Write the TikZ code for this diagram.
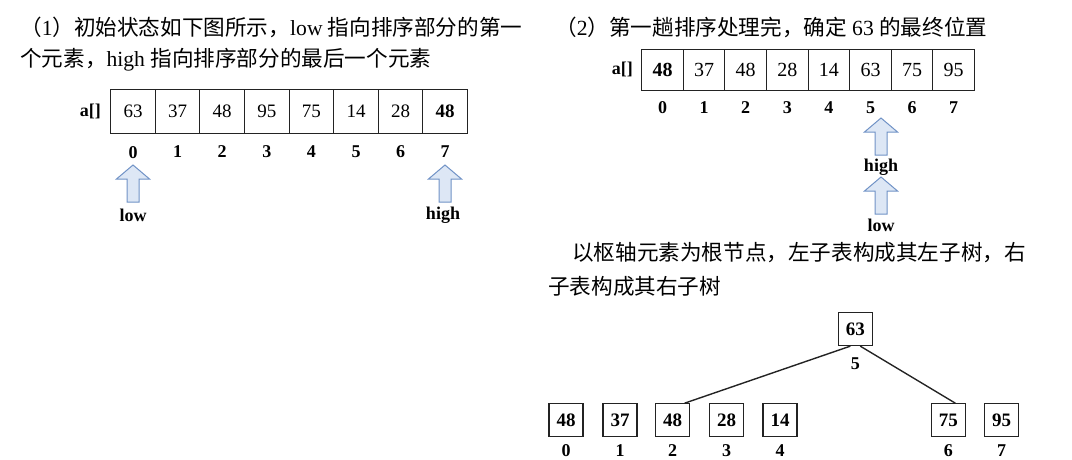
\documentclass[tikz,border=0pt]{standalone}
\usepackage{fontspec}
\setmainfont{Liberation Serif}
\newfontfamily\cjk{Noto Sans CJK SC}
\usepackage{tikz}
\usetikzlibrary{positioning}
\definecolor{mydark}{RGB}{35,35,35}
\definecolor{ptrline}{RGB}{112,146,198}
\definecolor{ptrfill}{RGB}{221,231,245}
\newcommand{\zh}[1]{{\cjk #1}}
\tikzset{
  cellA/.style={rectangle, draw=mydark, minimum width=44.6pt, minimum height=44pt,
    inner sep=0pt, line width=1.1pt, font=\fontsize{19}{19}\selectfont},
  cellB/.style={rectangle, draw=mydark, minimum width=41.6pt, minimum height=41pt,
    inner sep=0pt, line width=1.1pt, font=\fontsize{20}{20}\selectfont},
  treebox/.style={rectangle, draw=mydark, minimum width=34pt, minimum height=33pt,
    inner sep=0pt, line width=1.3pt, font=\fontsize{19}{19}\selectfont\bfseries},
  idx/.style={inner sep=0pt, font=\fontsize{18}{18}\selectfont\bfseries},
  ptrlabel/.style={inner sep=0pt, font=\fontsize{18}{18}\selectfont\bfseries},
  caption/.style={anchor=west, inner sep=0pt, font=\fontsize{21.6}{21.6}\selectfont},
  edge/.style={line width=1.4pt, color=mydark},
  pointer/.pic={
    \draw[draw=ptrline, fill=ptrfill, line width=1pt, line join=miter]
      (0,0) -- (16.5,14) -- (6,14) -- (6,37) -- (-6,37) -- (-6,14) -- (-16.5,14) -- cycle;
  }
}

\begin{document}
\begin{tikzpicture}[x=1pt, y=-1pt]
  \useasboundingbox (0,0) rectangle (1072,460);

  % Step 1 text
  \node[caption] (capA1) at (20,27) {\zh{（}1\zh{）初始状态如下图所示，}low \zh{指向排序部分的第一}};
  \node[caption] (capA2) at (20,60) {\zh{个元素，}high \zh{指向排序部分的最后一个元素}};

  % Initial array
  \node[cellA] (a0) at (133.0,111.3) {63};
  \node[cellA] (a1) at (177.6,111.3) {37};
  \node[cellA] (a2) at (222.2,111.3) {48};
  \node[cellA] (a3) at (266.8,111.3) {95};
  \node[cellA] (a4) at (311.4,111.3) {75};
  \node[cellA] (a5) at (356.0,111.3) {14};
  \node[cellA] (a6) at (400.6,111.3) {28};
  \node[cellA] (a7) at (445.2,111.3) {\textbf{48}};
  \node[ptrlabel, left=9pt of a0] (nameA) {a[]};

  \node[idx, below=12pt of a0] (ia0) {0};
  \node[idx, below=12pt of a1] (ia1) {1};
  \node[idx, below=12pt of a2] (ia2) {2};
  \node[idx, below=12pt of a3] (ia3) {3};
  \node[idx, below=12pt of a4] (ia4) {4};
  \node[idx, below=12pt of a5] (ia5) {5};
  \node[idx, below=12pt of a6] (ia6) {6};
  \node[idx, below=12pt of a7] (ia7) {7};

  % low / high pointers
  \pic at (133,165) {pointer};
  \node[ptrlabel] (lowA) at (133,215) {low};
  \pic at (445,165) {pointer};
  \node[ptrlabel] (highA) at (443,215) {high};

  % Step 2 text
  \node[caption] (capB) at (555,27) {\zh{（}2\zh{）第一趟排序处理完，确定} 63 \zh{的最终位置}};

  % Array after first pass
  \node[cellB] (b0) at (662.5,69.7) {\textbf{48}};
  \node[cellB] (b1) at (704.1,69.7) {37};
  \node[cellB] (b2) at (745.7,69.7) {48};
  \node[cellB] (b3) at (787.3,69.7) {28};
  \node[cellB] (b4) at (828.9,69.7) {14};
  \node[cellB] (b5) at (870.5,69.7) {63};
  \node[cellB] (b6) at (912.1,69.7) {75};
  \node[cellB] (b7) at (953.7,69.7) {95};
  \node[ptrlabel, left=8pt of b0] (nameB) {a[]};

  \node[idx, below=11pt of b0] (ib0) {0};
  \node[idx, below=11pt of b1] (ib1) {1};
  \node[idx, below=11pt of b2] (ib2) {2};
  \node[idx, below=11pt of b3] (ib3) {3};
  \node[idx, below=11pt of b4] (ib4) {4};
  \node[idx, below=11pt of b5] (ib5) {5};
  \node[idx, below=11pt of b6] (ib6) {6};
  \node[idx, below=11pt of b7] (ib7) {7};

  \pic at (881,118) {pointer};
  \node[ptrlabel] (highB) at (881,167) {high};
  \pic at (881,177) {pointer};
  \node[ptrlabel] (lowB) at (881,225) {low};

  % Tree text
  \node[caption] (capC1) at (572,253) {\zh{以枢轴元素为根节点，左子表构成其左子树，右}};
  \node[caption] (capC2) at (548,286) {\zh{子表构成其右子树}};

  % Tree
  \node[treebox] (root) at (855.3,329) {63};
  \node[idx, below=11pt of root] (iroot) {5};
  \node[treebox] (t0) at (566.0,420.3) {48};
  \node[treebox] (t1) at (620.0,420.3) {37};
  \node[treebox] (t2) at (672.7,420.3) {48};
  \node[treebox] (t3) at (726.7,420.3) {28};
  \node[treebox] (t4) at (780.0,420.3) {14};
  \node[treebox] (t6) at (948.3,420.3) {75};
  \node[treebox] (t7) at (1001.7,420.3) {95};

  \node[idx, below=7pt of t0] (it0) {0};
  \node[idx, below=7pt of t1] (it1) {1};
  \node[idx, below=7pt of t2] (it2) {2};
  \node[idx, below=7pt of t3] (it3) {3};
  \node[idx, below=7pt of t4] (it4) {4};
  \node[idx, below=7pt of t6] (it6) {6};
  \node[idx, below=7pt of t7] (it7) {7};

  \draw[edge] ([xshift=-5pt]root.south) -- ([xshift=12pt]t2.north);
  \draw[edge] ([xshift=5pt]root.south) -- ([xshift=7pt]t6.north);

\end{tikzpicture}
\end{document}
